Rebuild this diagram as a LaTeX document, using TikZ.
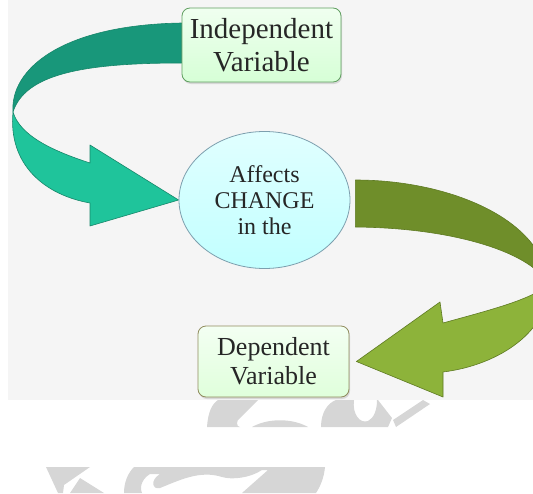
\documentclass[tikz,border=0pt]{standalone}
\usepackage{fontspec}
\setmainfont{Liberation Serif}
\usetikzlibrary{shadows,shapes.geometric}
\definecolor{bgfill}{HTML}{F5F5F5}
\definecolor{tealdark}{HTML}{18977A}
\definecolor{teallight}{HTML}{1FC49B}
\definecolor{tealline}{HTML}{17866A}
\definecolor{olivedark}{HTML}{6F8E2A}
\definecolor{olivelight}{HTML}{8DB33A}
\definecolor{oliveline}{HTML}{5E7A22}
\definecolor{wmgray}{HTML}{D6D6D6}
\definecolor{txt}{HTML}{262626}
\pgfdeclarelayer{back}
\pgfsetlayers{back,main}

\begin{document}
\begin{tikzpicture}[x=1pt,y=-1pt,
  varbox/.style={draw, rounded corners=8pt, line width=0.8pt, align=center,
    text=txt, inner sep=0pt, drop shadow={opacity=0.25, shadow xshift=1pt, shadow yshift=-2pt}},
  indepbox/.style={varbox, draw=green!25!gray, top color=green!6, bottom color=green!16,
    minimum width=159pt, minimum height=74pt, font=\fontsize{29}{33}\selectfont},
  depbox/.style={varbox, draw=olive!35!gray, top color=yellow!6!green!5, bottom color=yellow!12!green!14,
    minimum width=151pt, minimum height=71pt, font=\fontsize{26}{29}\selectfont},
  affect/.style={ellipse, draw=cyan!30!gray, line width=0.8pt, top color=cyan!12, bottom color=cyan!24,
    minimum width=171pt, minimum height=137pt, inner sep=0pt, align=center, text=txt,
    font=\fontsize{24}{26}\selectfont},
  ribbon/.style={line width=0.6pt, line join=round},
  wm/.style={fill=wmgray}]
\useasboundingbox (0,0) rectangle (533,493);

\node[indepbox] (indep) at (261.5,45) {Independent\\Variable};
\node[affect] (change) at (264.5,200) {Affects\\CHANGE\\in the};
\node[depbox] (dep) at (273.5,361.5) {Dependent\\Variable};

\begin{pgfonlayer}{back}
\fill[bgfill] (8,0) rectangle (533,400);

% teal ribbon, back side on top
\coordinate (t1) at ([yshift=22pt]indep.west);
\coordinate (t2) at ([yshift=-18pt]indep.west);
\coordinate (tt) at (13,112);
\filldraw[ribbon, fill=tealdark, draw=tealline] (t1) .. controls (60,25) and (10,70) .. (tt)
  .. controls (25,75) and (80,63) .. (t2) -- cycle;
\filldraw[ribbon, fill=teallight, draw=tealline] (tt) .. controls (8,165) and (45,195) .. (90,203)
  -- (90,226) -- (change.west) -- (90,145) -- (90,163) .. controls (50,150) and (20,135) .. (tt) -- cycle;

% olive ribbon, twist falls past the edge
\coordinate (o1) at ([xshift=5pt,yshift=20pt]change.east);
\coordinate (o2) at ([xshift=5pt,yshift=-27pt]change.east);
\coordinate (ot) at (548,285);
\begin{scope}
\clip (0,0) rectangle (533,493);
\filldraw[ribbon, fill=olivedark, draw=oliveline] (o1) .. controls (450,180) and (545,220) .. (ot)
  .. controls (535,255) and (460,228) .. (o2) -- cycle;
\filldraw[ribbon, fill=olivelight, draw=oliveline] (ot) .. controls (550,330) and (500,365) .. (443,372)
  -- (443,397) -- ([xshift=7pt]dep.east) -- (440,302) -- (443,323)
  .. controls (490,310) and (530,300) .. (ot) -- cycle;
\end{scope}

% grey marks under the picture
\begin{scope}
\clip (0,400) rectangle (533,427);
\fill[wm] (207,427) .. controls (208,412) and (212,404) .. (218,400) -- (258,400) -- (240,418)
  .. controls (236,420) and (236,427) .. (240,427) -- cycle;
\fill[wm] (252,427) .. controls (268,418) and (292,418) .. (308,427) -- cycle;
\fill[wm] (321,427) .. controls (321,412) and (328,403) .. (336,400) -- (354,400)
  .. controls (352,414) and (360,424) .. (368,421) .. controls (374,418) and (377,410) .. (377,400)
  -- (378,400) -- (392,418) -- (388,427) -- cycle;
\fill[wm] (396,427) -- (430,404) -- (423,400) -- (393,420) -- cycle;
\end{scope}
\begin{scope}
\clip (0,467) rectangle (533,493);
\fill[wm] (46,467) -- (90,467) -- (64,485) -- (63,493) -- (58,493) -- cycle;
\fill[wm] (80,478) -- (104,493) -- (70,493) -- cycle;
\fill[wm] (124,493) .. controls (124,482) and (128,473) .. (134,467) -- (325,467)
  .. controls (324,478) and (320,487) .. (316,493) -- (242,493) -- (268,470) -- (262,470)
  .. controls (250,478) and (232,480) .. (222,477) .. controls (200,470) and (180,480) .. (160,488)
  .. controls (152,490) and (150,480) .. (160,474) -- (150,474) .. controls (140,480) and (140,490) .. (142,493) -- cycle;
\end{scope}
\end{pgfonlayer}
\end{tikzpicture}
\end{document}
